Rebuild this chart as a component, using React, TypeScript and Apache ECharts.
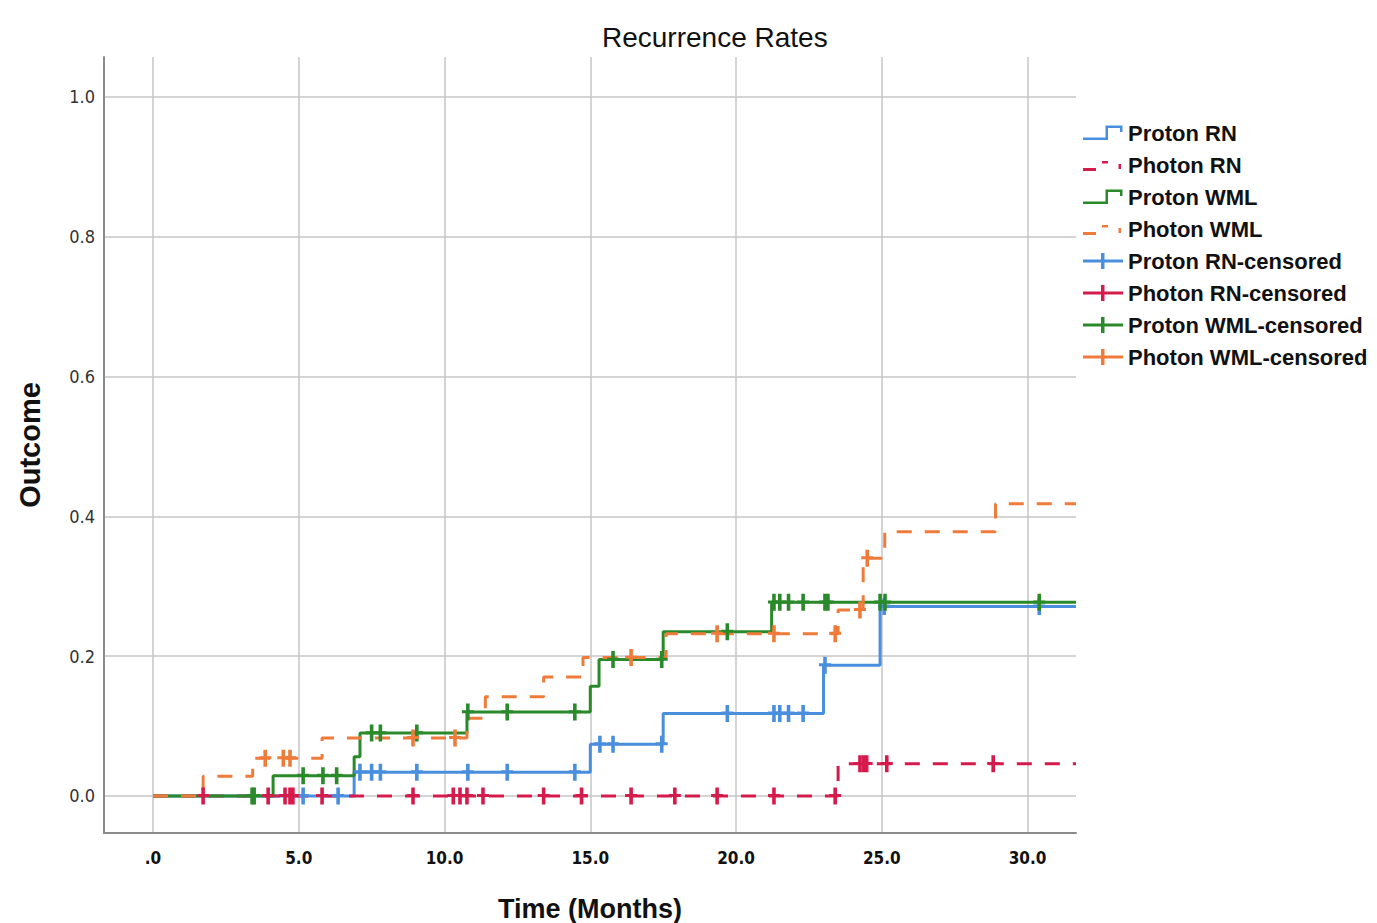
import React, { useEffect, useRef } from 'react';
import * as echarts from 'echarts';

// ---- axis extents ----
const xAxisMin = -1.68;
const xAxisMax = 31.66;
const yAxisMin = -0.053;
const yAxisMax = 1.057;
const followUpEnd = 31.66;

// ---- step functions (event time -> cumulative outcome) ----
const protonRnTimes = [0, 6.9, 15.0, 17.5, 23.0, 24.94];
const protonRnValues = [0, 0.034, 0.074, 0.118, 0.187, 0.271];
const protonRnCensored = [5.15, 6.35, 7.1, 7.5, 7.8, 9.05, 10.8, 12.15, 14.47, 15.33, 15.78, 17.45, 19.7, 21.3, 21.5, 21.8, 22.3, 23.05, 25.08, 30.4];

const photonRnTimes = [0, 23.5];
const photonRnValues = [0, 0.046];
const photonRnCensored = [1.72, 3.95, 4.53, 4.7, 4.8, 5.8, 8.92, 10.3, 10.53, 10.77, 11.32, 13.4, 14.7, 16.4, 17.9, 19.35, 21.3, 23.4, 24.25, 24.37, 24.48, 25.17, 28.82];

const protonWmlTimes = [0, 4.12, 6.9, 7.1, 10.77, 15.0, 15.3, 17.5, 21.22];
const protonWmlValues = [0, 0.029, 0.056, 0.09, 0.12, 0.157, 0.195, 0.235, 0.277];
const protonWmlCensored = [3.4, 3.47, 5.15, 5.83, 6.3, 7.5, 7.8, 9.05, 10.8, 12.15, 14.47, 15.78, 17.45, 19.7, 21.3, 21.5, 21.8, 22.3, 23.05, 23.15, 24.94, 25.11, 30.4];

const photonWmlTimes = [0, 1.72, 3.42, 5.8, 10.77, 11.4, 13.4, 14.75, 17.6, 23.5, 24.36, 25.1, 28.9];
const photonWmlValues = [0, 0.028, 0.054, 0.083, 0.111, 0.142, 0.17, 0.198, 0.232, 0.266, 0.34, 0.378, 0.418];
const photonWmlCensored = [3.85, 4.47, 4.7, 8.92, 10.36, 16.4, 19.35, 21.3, 23.4, 24.25, 24.5];

const seriesNames = ['Proton RN', 'Photon RN', 'Proton WML', 'Photon WML'];
const censoredSuffix = '-censored';
const colors = ['#4A8FDE', '#D51A4C', '#2A8A2A', '#EE7B3A'];

const stepIcon = 'path://M0,0H0.01V0.01H0Z M39.99,15.99H40V16H39.99Z M0,12.5H22.5V0.5H39.5V7H37V3H25V15H0Z';
const dashIcon = 'path://M0,0H0.01V0.01H0Z M39.99,15.99H40V16H39.99Z M0,11H13V14H0Z M19,4H25V6.5H19Z M35.5,7H38V12H35.5Z';
const censorIcon = 'path://M0,6.5H18V0H21.5V6.5H40V9.5H21.5V16H18V9.5H0Z';
const plusSymbol = 'path://M4.2,0H7.8V6.6H12V9.6H7.8V17H4.2V9.6H0V6.6H4.2Z';

function stepData(times: number[], values: number[]) {
  const pts = times.map((t, i) => [t, values[i]]);
  pts.push([followUpEnd, values[values.length - 1]]);
  return pts;
}
function valueAt(times: number[], values: number[], t: number) {
  let v = values[0];
  for (let i = 0; i < times.length; i++) if (times[i] <= t) v = values[i];
  return v;
}
function censorData(times: number[], values: number[], cens: number[]) {
  return cens.map((t) => [t, valueAt(times, values, t)]);
}

const groups = [
  { times: protonRnTimes, values: protonRnValues, cens: protonRnCensored, dashed: false },
  { times: photonRnTimes, values: photonRnValues, cens: photonRnCensored, dashed: true },
  { times: protonWmlTimes, values: protonWmlValues, cens: protonWmlCensored, dashed: false },
  { times: photonWmlTimes, values: photonWmlValues, cens: photonWmlCensored, dashed: true },
];

export default function App() {
  const ref = useRef<HTMLDivElement>(null);
  useEffect(() => {
    if (!ref.current) return;
    const chart = echarts.init(ref.current, undefined, { renderer: 'svg' });
    const lineSeries = groups.map((g, i) => ({
      name: seriesNames[i],
      type: 'line',
      step: 'end',
      data: stepData(g.times, g.values),
      symbol: 'none',
      color: colors[i],
      lineStyle: { color: colors[i], width: 3, type: g.dashed ? [15, 13] : 'solid' },
      z: 2,
    }));
    const censSeries = groups.map((g, i) => ({
      name: seriesNames[i] + censoredSuffix,
      type: 'scatter',
      data: censorData(g.times, g.values, g.cens),
      symbol: plusSymbol,
      symbolSize: [12, 17],
      color: colors[i],
      itemStyle: { color: colors[i], opacity: 1 },
      z: 3,
    }));
    const legendData = [
      ...seriesNames.map((n, i) => ({ name: n, icon: groups[i].dashed ? dashIcon : stepIcon })),
      ...seriesNames.map((n) => ({ name: n + censoredSuffix, icon: censorIcon })),
    ];
    chart.setOption({
      animation: false,
      backgroundColor: '#ffffff',
      title: {
        text: 'Recurrence Rates',
        left: 597,
        top: 18,
        textStyle: { fontFamily: 'Liberation Sans', fontSize: 28, fontWeight: 'normal', color: '#111' },
      },
      legend: {
        orient: 'vertical',
        left: 1078,
        top: 117,
        itemWidth: 40,
        itemHeight: 16,
        itemGap: 10,
        data: legendData,
        itemStyle: { borderWidth: 0, opacity: 1 },
        textStyle: { fontFamily: 'Liberation Sans', fontSize: 22, fontWeight: 'bold', color: '#111' },
      },
      grid: { left: 104, right: 301, top: 57, bottom: 90, outerBoundsMode: 'none', containLabel: false },
      xAxis: {
        type: 'value',
        min: xAxisMin,
        max: xAxisMax,
        name: 'Time (Months)',
        nameLocation: 'middle',
        nameGap: 62,
        nameTextStyle: { fontFamily: 'Liberation Sans', fontSize: 27, fontWeight: 'bold', color: '#111' },
        axisLine: { show: true, onZero: false, lineStyle: { color: '#8a8a8a', width: 2 } },
        axisTick: { show: false },
        axisLabel: {
          showMinLabel: false,
          showMaxLabel: false,
          margin: 16,
          fontFamily: "'Liberation Sans Narrow', 'DejaVu Sans Condensed', 'Liberation Sans'",
          fontSize: 17,
          fontWeight: 'bold',
          color: '#111',
          formatter: (v: number) => (Math.abs(v % 5) > 1e-6 ? '' : Math.abs(v) < 1e-9 ? '.0' : v.toFixed(1)),
        },
        splitLine: { show: true, showMinLine: false, showMaxLine: false, lineStyle: { color: '#c6c6c6', width: 1.5 } },
      },
      yAxis: {
        type: 'value',
        min: yAxisMin,
        max: yAxisMax,
        name: 'Outcome',
        nameLocation: 'middle',
        nameGap: 60,
        nameTextStyle: { fontFamily: 'Liberation Sans', fontSize: 29, fontWeight: 'bold', color: '#111' },
        axisLine: { show: true, onZero: false, lineStyle: { color: '#8a8a8a', width: 2 } },
        axisTick: { show: false },
        axisLabel: {
          showMinLabel: false,
          showMaxLabel: false,
          margin: 9,
          fontFamily: "'Liberation Sans Narrow', 'DejaVu Sans Condensed', 'Liberation Sans'",
          fontSize: 18,
          color: '#333',
          formatter: (v: number) => (Math.abs((v * 10) % 2) > 1e-6 && Math.abs((v * 10) % 2) < 2 - 1e-6 ? '' : v.toFixed(1)),
        },
        splitLine: { show: true, showMinLine: false, showMaxLine: false, lineStyle: { color: '#c6c6c6', width: 1.5 } },
      },
      series: [...lineSeries, ...censSeries],
    });
    return () => chart.dispose();
  }, []);
  return <div ref={ref} style={{ position: 'fixed', left: 0, top: 0, width: 1377, height: 923 }} />;
}
